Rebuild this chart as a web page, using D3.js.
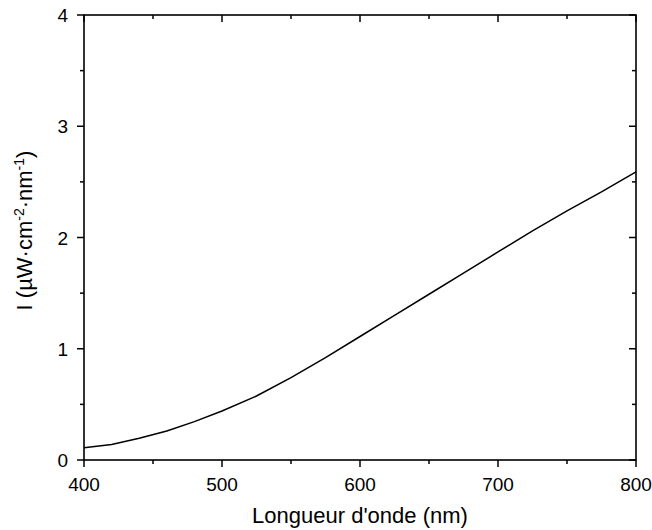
<!DOCTYPE html>
<html lang="en">
<head>
    <meta charset="UTF-8">
    <title>Spectre</title>
    <script src="https://d3js.org/d3.v7.min.js"></script>
    <style>
        body { margin: 0; background: white; }
        svg text { font-family: "Liberation Sans", Arial, sans-serif; fill: black; }
        .tick-label { font-size: 19px; }
        .axis-title { font-size: 22px; }
    </style>
</head>
<body>
<div id="chart"></div>
<script>
// data
const wavelengths = [400, 420, 440, 460, 480, 500, 525, 550, 575, 600, 625, 650, 675, 700, 725, 750, 775, 800];
const intensity = [0.11, 0.14, 0.195, 0.26, 0.345, 0.44, 0.575, 0.74, 0.92, 1.11, 1.30, 1.49, 1.68, 1.87, 2.06, 2.24, 2.41, 2.59];
const xTicks = [400, 500, 600, 700, 800];
const xMinor = [450, 550, 650, 750];
const yTicks = [0, 1, 2, 3, 4];
const yMinor = [0.5, 1.5, 2.5, 3.5];

const W = 652, H = 530;
const margin = { top: 15, right: 16, bottom: 70, left: 84 };
const width = W - margin.left - margin.right,
      height = H - margin.top - margin.bottom;

const svg = d3.select("#chart").append("svg")
    .attr("width", W).attr("height", H);
const g = svg.append("g").attr("transform", `translate(${margin.left},${margin.top})`);

const x = d3.scaleLinear().domain([400, 800]).range([0, width]);
const y = d3.scaleLinear().domain([0, 4]).range([height, 0]);

const data = wavelengths.map((w, i) => ({ w: w, v: intensity[i] }));

// ticks: outward on bottom/left, inward on top/right
function ticks(sel, vals, len, side) {
    vals.forEach(v => {
        let l;
        if (side === "bottom") l = [x(v), height, x(v), height + len];
        if (side === "top") l = [x(v), 0, x(v), len];
        if (side === "left") l = [0, y(v), -len, y(v)];
        if (side === "right") l = [width, y(v), width - len, y(v)];
        sel.append("line")
            .attr("x1", l[0]).attr("y1", l[1]).attr("x2", l[2]).attr("y2", l[3])
            .attr("stroke", "black").attr("stroke-width", 1.5);
    });
}
ticks(g, xTicks, 7, "bottom");
ticks(g, xMinor, 4, "bottom");
ticks(g, xTicks, 7, "top");
ticks(g, xMinor, 4, "top");
ticks(g, yTicks, 7, "left");
ticks(g, yMinor, 4, "left");
ticks(g, yTicks, 7, "right");
ticks(g, yMinor, 4, "right");

// frame
g.append("rect")
    .attr("x", 0).attr("y", 0).attr("width", width).attr("height", height)
    .attr("fill", "none").attr("stroke", "black").attr("stroke-width", 1.6);

// tick labels
g.selectAll(".xl").data(xTicks).enter().append("text")
    .attr("class", "tick-label")
    .attr("x", d => x(d)).attr("y", height + 31)
    .attr("text-anchor", "middle")
    .text(d => d);

g.selectAll(".yl").data(yTicks).enter().append("text")
    .attr("class", "tick-label")
    .attr("x", -16).attr("y", d => y(d) + 7)
    .attr("text-anchor", "end")
    .text(d => d);

// curve
const line = d3.line().x(d => x(d.w)).y(d => y(d.v));
g.append("path")
    .datum(data)
    .attr("d", line)
    .attr("fill", "none")
    .attr("stroke", "black")
    .attr("stroke-width", 1.5);

// axis titles
g.append("text")
    .attr("class", "axis-title")
    .attr("x", width / 2).attr("y", height + 63)
    .attr("text-anchor", "middle")
    .text("Longueur d'onde (nm)");

const yt = g.append("text")
    .attr("class", "axis-title")
    .attr("transform", `translate(-52,${height / 2 - 7}) rotate(-90)`)
    .attr("text-anchor", "middle");
yt.append("tspan").text("I (µW·cm");
yt.append("tspan").attr("dy", -8).style("font-size", "14px").text("-2");
yt.append("tspan").attr("dy", 8).text("·nm");
yt.append("tspan").attr("dy", -8).style("font-size", "14px").text("-1");
yt.append("tspan").attr("dy", 8).text(")");
</script>
</body>
</html>
